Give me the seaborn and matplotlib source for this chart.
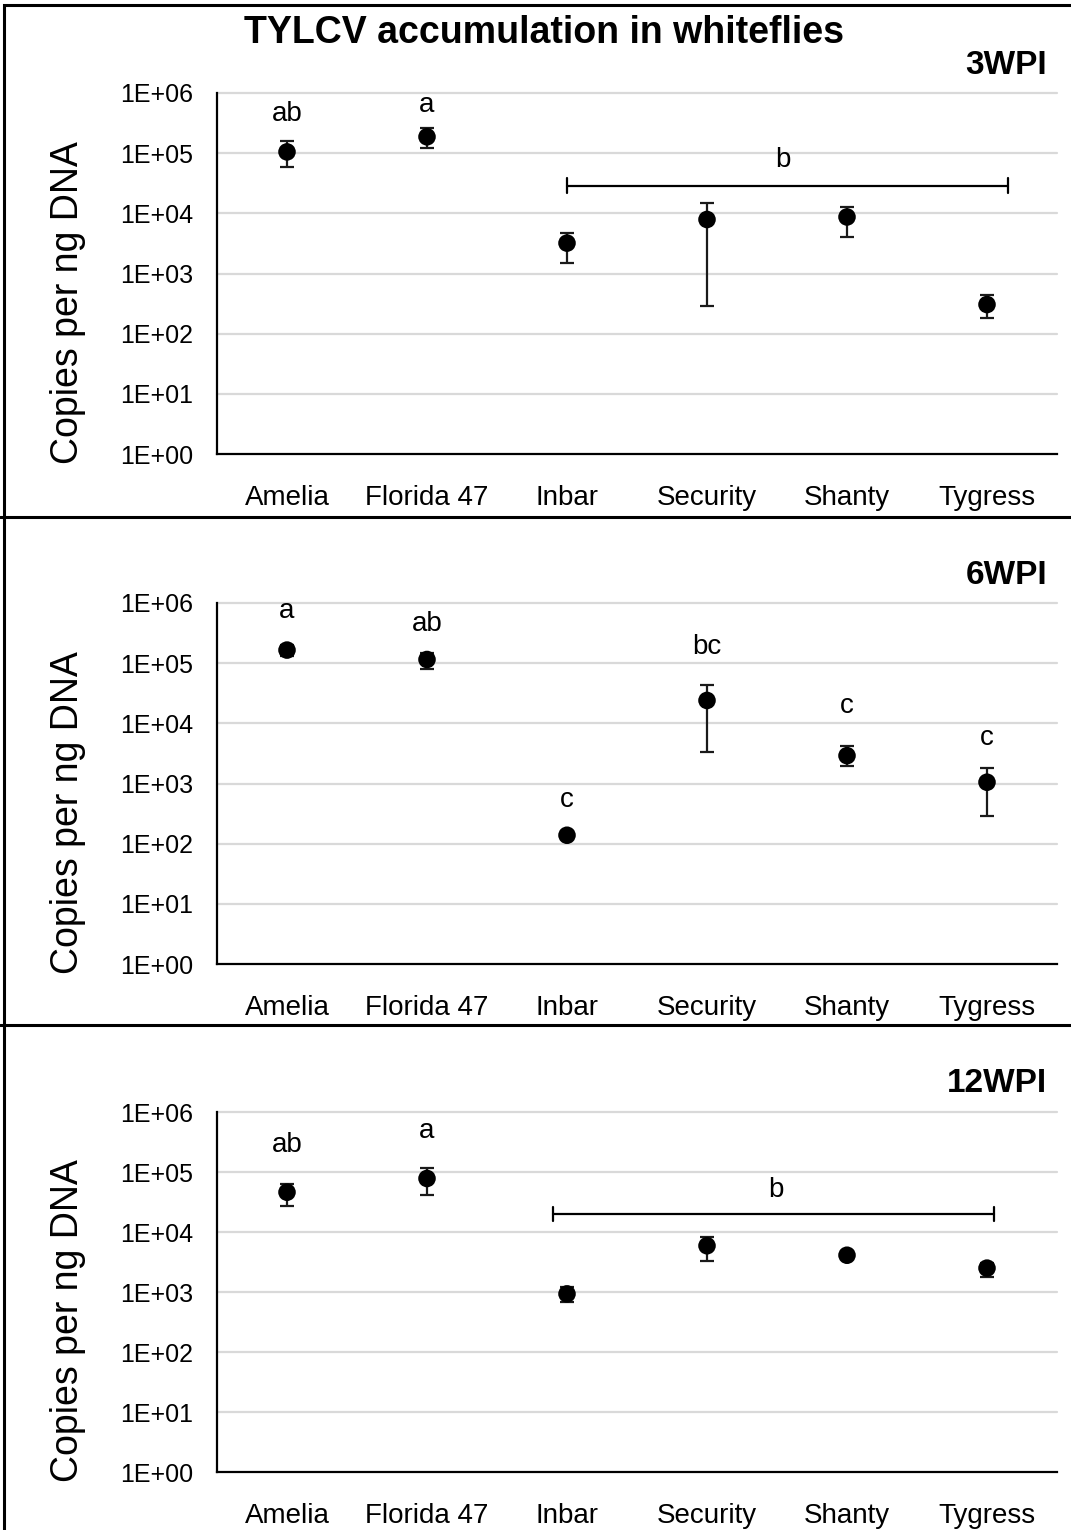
import numpy as np
import pandas as pd
import matplotlib
matplotlib.use("Agg")
import matplotlib.pyplot as plt
import seaborn as sns
from matplotlib.lines import Line2D
from matplotlib.patches import Rectangle

# values (copies per ng DNA)
cultivars = ["Amelia", "Florida 47", "Inbar", "Security", "Shanty", "Tygress"]
panel_names = ["3WPI", "6WPI", "12WPI"]

wpi3_mean = [1.05e5, 1.87e5, 3.2e3, 7.9e3, 8.7e3, 3.05e2]
wpi3_low = [5.8e4, 1.23e5, 1.5e3, 2.85e2, 4.1e3, 1.8e2]
wpi3_high = [1.6e5, 2.6e5, 4.7e3, 1.5e4, 1.27e4, 4.35e2]

wpi6_mean = [1.65e5, 1.15e5, 1.38e2, 2.4e4, 2.9e3, 1.05e3]
wpi6_low = [1.3e5, 8.0e4, 1.2e2, 3.3e3, 1.95e3, 2.9e2]
wpi6_high = [2.0e5, 1.5e5, 1.6e2, 4.4e4, 4.2e3, 1.8e3]

wpi12_mean = [4.6e4, 7.8e4, 9.3e2, 5.9e3, 4.1e3, 2.5e3]
wpi12_low = [2.7e4, 4.1e4, 6.8e2, 3.3e3, 3.6e3, 1.8e3]
wpi12_high = [6.2e4, 1.17e5, 1.2e3, 8.3e3, 4.8e3, 3.1e3]

# significance letters above each point ("" = covered by a bracket)
letters3 = ["ab", "a", "", "", "", ""]
letters6 = ["a", "ab", "c", "bc", "c", "c"]
letters12 = ["ab", "a", "", "", "", ""]
letter_y3 = [10**5.535, 10**5.684, None, None, None, None]
letter_y6 = [10**5.75, 10**5.527, 10**2.616, 10**5.151, 10**4.18, 10**3.642]
letter_y12 = [10**5.334, 10**5.574, None, None, None, None]

# group brackets: (x start, x end, y level, letter, letter x, letter y)
bracket3 = (2.0, 5.15, 2.9e4, "b", 3.54, 10**4.771)
bracket12 = (1.9, 5.05, 2.0e4, "b", 3.49, 10**4.586)

sns.set_style("white")
plt.rcParams["font.family"] = ["Liberation Sans", "DejaVu Sans"]
for key in ["text.color", "axes.labelcolor", "xtick.color", "ytick.color"]:
    plt.rcParams[key] = "black"

W, H = 1071, 1530
fig = plt.figure(figsize=(W / 100, H / 100), dpi=100)

panels = [
    (wpi3_mean, wpi3_low, wpi3_high, letters3, letter_y3, bracket3, 93, 454),
    (wpi6_mean, wpi6_low, wpi6_high, letters6, letter_y6, None, 603, 964),
    (wpi12_mean, wpi12_low, wpi12_high, letters12, letter_y12, bracket12, 1112, 1472),
]

for name, (mean, low, high, letters, ly, bracket, top, bottom) in zip(panel_names, panels):
    ax = fig.add_axes([217 / W, 1 - bottom / H, 840 / W, (bottom - top) / H])
    df = pd.DataFrame({"cultivar": cultivars, "copies": mean, "low": low, "high": high})

    sns.scatterplot(data=df, x="cultivar", y="copies", ax=ax, color="black",
                    s=160, edgecolor="none", zorder=4, legend=False)
    xs = np.arange(len(df))
    yerr = [df["copies"] - df["low"], df["high"] - df["copies"]]
    ax.errorbar(xs, df["copies"], yerr=yerr, fmt="none", ecolor="#1a1a1a",
                elinewidth=1.6, capsize=5, capthick=1.6, zorder=3)

    ax.set_yscale("log")
    ax.set_ylim(1, 1e6)
    ax.set_xlim(-0.5, 5.5)
    ticks = [10**k for k in range(7)]
    ax.set_yticks(ticks)
    ax.set_yticklabels([f"1E+{k:02d}" for k in range(7)])
    ax.yaxis.set_minor_locator(matplotlib.ticker.NullLocator())
    ax.set_xticks(xs)
    ax.set_xticklabels(cultivars)
    ax.tick_params(axis="x", length=0, pad=22, labelsize=20)
    ax.tick_params(axis="y", length=0, pad=17, labelsize=18)

    for t in ticks[1:]:
        ax.axhline(t, color="#d9d9d9", lw=1.6, zorder=1, clip_on=False)

    for side in ["top", "right"]:
        ax.spines[side].set_visible(False)
    for side in ["left", "bottom"]:
        ax.spines[side].set_color("black")
        ax.spines[side].set_linewidth(1.6)
        ax.spines[side].set_zorder(2)

    ax.set_xlabel("")
    ax.set_ylabel("Copies per ng DNA", fontsize=27, va="center")
    ax.yaxis.set_label_coords(-149 / 840, 0.42)

    for i, (lab, yy) in enumerate(zip(letters, ly)):
        if lab:
            ax.text(i, yy, lab, ha="center", va="baseline", fontsize=20)

    if bracket is not None:
        x0, x1, yb, lab, lx, lyy = bracket
        ax.plot([x0, x1], [yb, yb], color="black", lw=1.6, zorder=3)
        for xe in (x0, x1):
            ax.plot([xe, xe], [yb * 10**(-7 / 60), yb * 10**(7 / 60)],
                    color="black", lw=1.6, zorder=3)
        ax.text(lx, lyy, lab, ha="center", va="baseline", fontsize=20)

    fig.text(1047 / W, 1 - (top - 28) / H, name, ha="right", va="center",
             fontsize=24, fontweight="bold")

fig.text(544 / W, 1 - 33 / H, "TYLCV accumulation in whiteflies", ha="center",
         va="center", fontsize=27, fontweight="bold")

# panel frames
for yy in (517, 1025):
    fig.add_artist(Line2D([0, 1], [1 - yy / H, 1 - yy / H], color="black", lw=2.2))
fig.add_artist(Rectangle((4 / W, -0.01), 1.2, 1 - 5 / H + 0.01, fill=False,
                         edgecolor="black", lw=2.2))

fig.savefig("out.png", dpi=100)
